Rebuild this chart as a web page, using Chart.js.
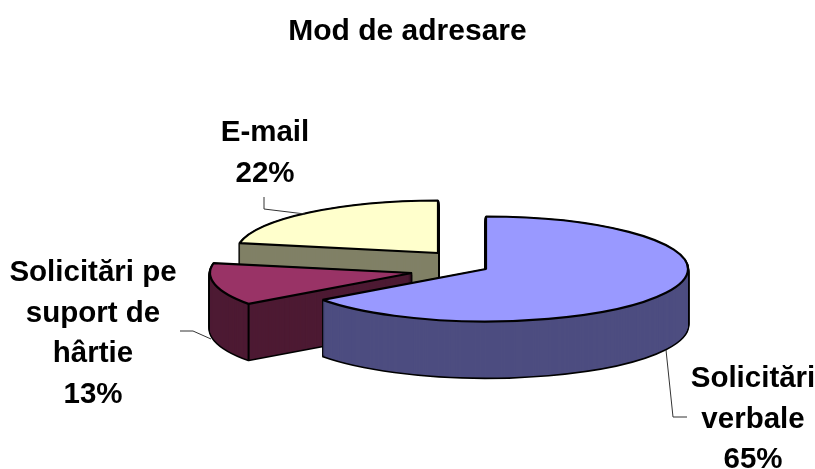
<!DOCTYPE html>
<html><head><meta charset="utf-8">
<script src="https://cdn.jsdelivr.net/npm/chart.js@4"></script>
<style>html,body{margin:0;padding:0;background:#fff}canvas{display:block}</style>
</head><body><canvas id="c" width="815" height="469"></canvas>
<script>
const chartTitle = 'Mod de adresare';
const categories = ['Solicitări verbale', 'Solicitări pe suport de hârtie', 'E-mail'];
const percents = [65, 13, 22];
const labelLines = [['Solicitări', 'verbale'], ['Solicitări pe', 'suport de', 'hârtie'], ['E-mail']];
const topColors = ['#9999FF', '#993366', '#FFFFCC'];
const wallColors = ['#4D4D80', '#4D1A33', '#808066'];

const view = {
  rx: 202, ry: 52.5, depth: 56,
  apex: [[486, 269], [412, 273], [438, 253]],
  labelAt: [[753, 379], [93, 273], [265, 133]],
  leaders: [
    [[666, 350], [673, 417], [687, 417]],
    [[180, 331], [193, 331], [211, 339]],
    [[264, 197], [264, 209], [305, 214]]
  ]
};
const fontFamily = '"Liberation Sans", Arial, sans-serif';
const font = 'bold 29.5px ' + fontFamily;

const pie3d = {
  id: 'pie3d',
  beforeDatasetsDraw(chart) {
    const ctx = chart.ctx, arcs = chart.getDatasetMeta(0).data;
    const k = view.ry / view.rx;
    ctx.stroke = function () {
      const m = ctx.getTransform();
      ctx.resetTransform();
      CanvasRenderingContext2D.prototype.stroke.call(ctx);
      ctx.setTransform(m);
    };
    const drawLayer = (arc, i, dy, fill, bw) => {
      const base = arc.options;
      arc.options = { ...base, backgroundColor: fill, borderColor: '#000', borderWidth: bw };
      ctx.save();
      ctx.translate(view.apex[i][0], view.apex[i][1] + dy);
      ctx.scale(1, k);
      ctx.translate(-arc.x, -arc.y);
      arc.draw(ctx);
      ctx.restore();
      arc.options = base;
    };
    for (let i = arcs.length - 1; i >= 0; i--) {
      const arc = arcs[i];
      for (let d = view.depth; d >= 1; d -= 1) drawLayer(arc, i, d, wallColors[i], 3);
      for (let d = view.depth; d >= 1; d -= 1) drawLayer(arc, i, d, wallColors[i], 0);
      for (let d = view.depth - 1; d >= 1; d -= 1) drawLayer(arc, i, d, wallColors[i], 0);
      const a = arc.startAngle;
      const x = view.apex[i][0] + view.rx * Math.cos(a);
      const y = view.apex[i][1] + view.ry * Math.sin(a);
      if (Math.sin(a) > 0 && Math.cos(a) < 0) {
        ctx.save();
        ctx.strokeStyle = '#000'; ctx.lineWidth = 2;
        ctx.beginPath(); ctx.moveTo(x, y); ctx.lineTo(x, y + view.depth);
        CanvasRenderingContext2D.prototype.stroke.call(ctx);
        ctx.restore();
      }
      drawLayer(arc, i, 0, topColors[i], 2.2);
    }
    delete ctx.stroke;
    return false;
  },
  afterDraw(chart) {
    const ctx = chart.ctx;
    ctx.save();
    ctx.strokeStyle = '#333'; ctx.lineWidth = 1;
    view.leaders.forEach(pts => {
      ctx.beginPath();
      pts.forEach((p, j) => j ? ctx.lineTo(p[0], p[1]) : ctx.moveTo(p[0], p[1]));
      ctx.stroke();
    });
    ctx.fillStyle = '#000'; ctx.font = font;
    ctx.textAlign = 'center'; ctx.textBaseline = 'middle';
    categories.forEach((c, i) => {
      const lines = labelLines[i].concat(percents[i] + '%');
      lines.forEach((t, j) => ctx.fillText(t, view.labelAt[i][0], view.labelAt[i][1] + j * 40.5));
    });
    ctx.restore();
  }
};

new Chart(document.getElementById('c'), {
  type: 'pie',
  data: { labels: categories, datasets: [{ data: percents, backgroundColor: topColors, radius: view.rx }] },
  options: {
    responsive: false, animation: false,
    layout: { padding: 0 },
    plugins: {
      legend: { display: false },
      tooltip: { enabled: false },
      title: { display: true, text: chartTitle, color: '#000',
        font: { family: fontFamily, size: 30, weight: 'bold' },
        padding: { top: 14, bottom: 1 } }
    }
  },
  plugins: [pie3d]
});
</script></body></html>
